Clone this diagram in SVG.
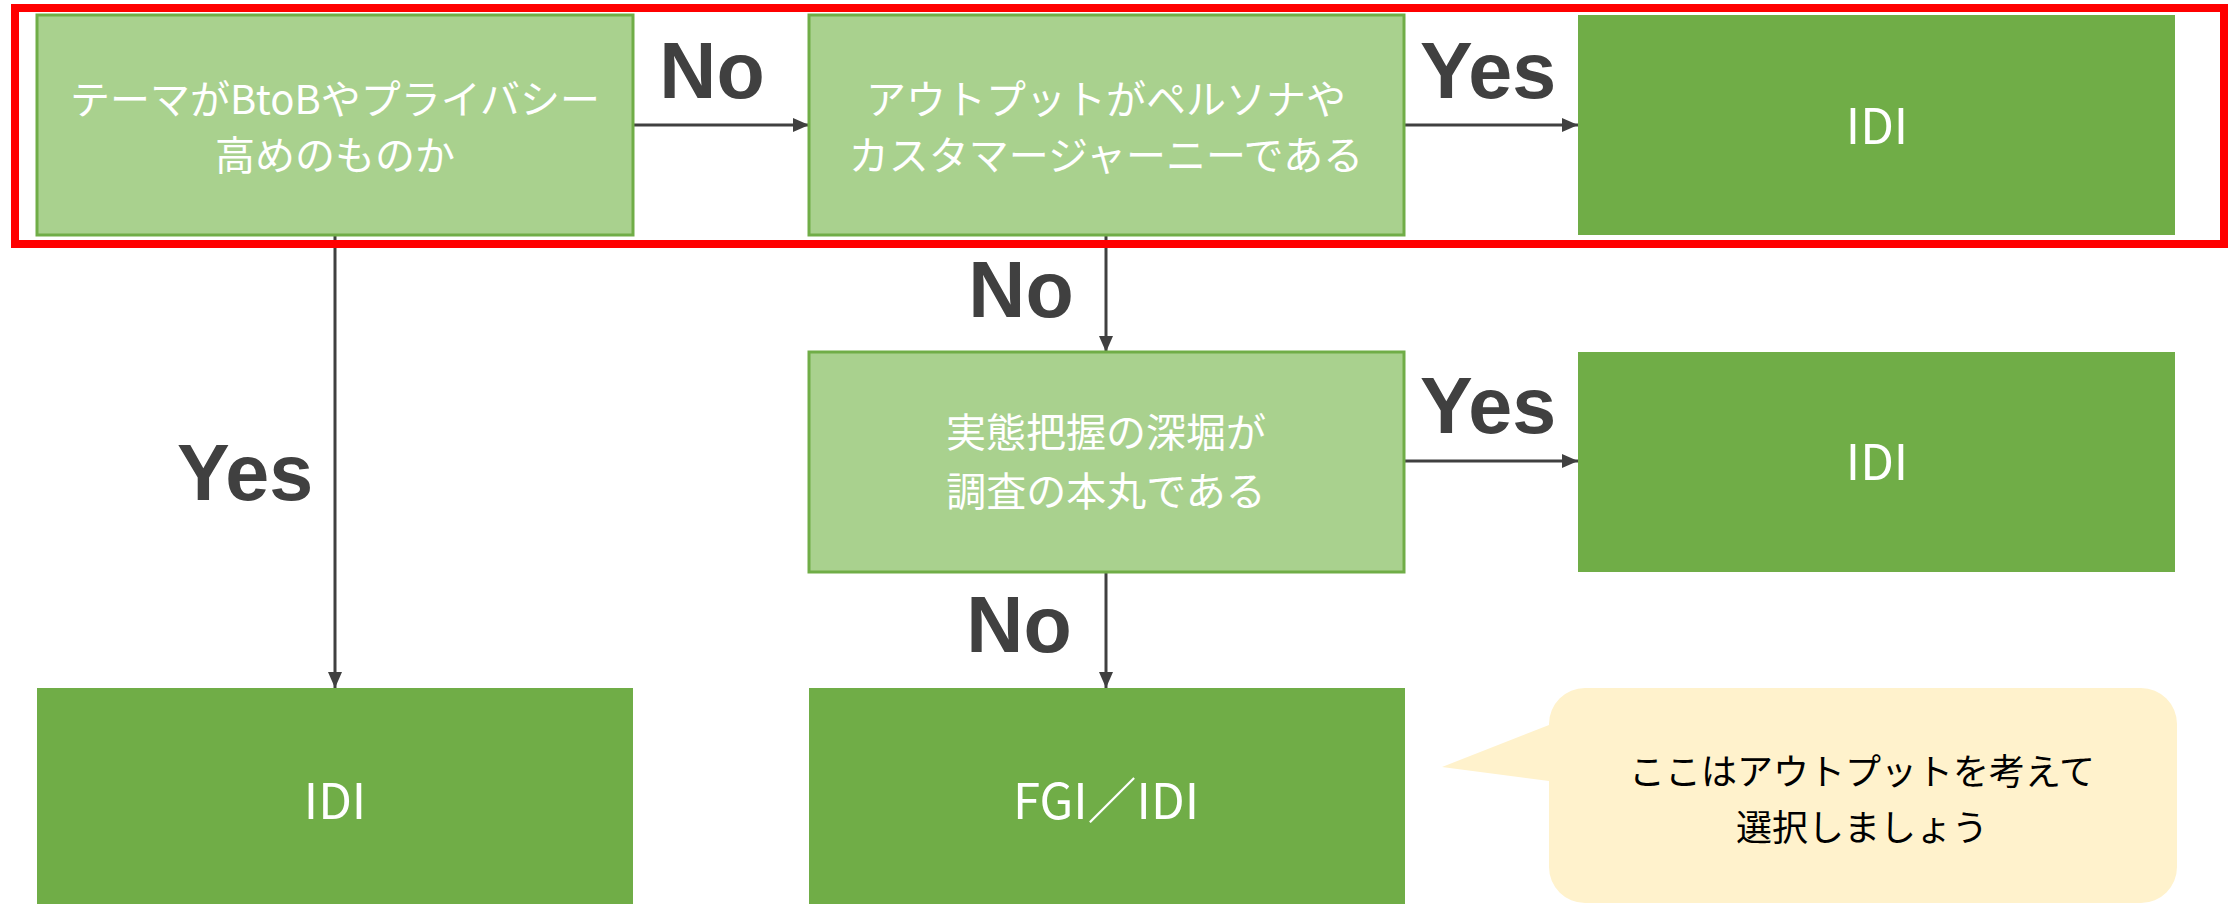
<svg xmlns="http://www.w3.org/2000/svg" width="2236" height="904" viewBox="0 0 2236 904">
  <style>
    .q { fill: #A9D18E; stroke: #70AD47; stroke-width: 3; }
    .r { fill: #70AD47; }
    .jt { font-family: "Noto Sans CJK JP", sans-serif; font-size: 40px; fill: #FFFFFF; text-anchor: middle; }
    .it { font-family: "Noto Sans CJK JP", "Noto Sans", sans-serif; font-size: 49px; fill: #FFFFFF; text-anchor: middle; }
    .lbl { font-family: "Liberation Sans", Arial, sans-serif; font-weight: bold; font-size: 79px; fill: #404040; text-anchor: middle; }
    .ct { font-family: "Noto Sans CJK JP", sans-serif; font-size: 36px; fill: #000000; text-anchor: middle; }
    .c { stroke: #404040; stroke-width: 3; fill: none; marker-end: url(#ah); }
  </style>
  <defs>
    <marker id="ah" viewBox="0 0 16 14" refX="16" refY="7" markerWidth="16" markerHeight="14" markerUnits="userSpaceOnUse" orient="auto">
      <path d="M0,0 L16,7 L0,14 Z" fill="#404040"/>
    </marker>
  </defs>
  <rect width="2236" height="904" fill="#FFFFFF"/>

  <g id="connectors">
    <line class="c" x1="633" y1="125" x2="809" y2="125"/>
    <line class="c" x1="1404" y1="125" x2="1578" y2="125"/>
    <line class="c" x1="1106" y1="235" x2="1106" y2="352"/>
    <line class="c" x1="1404" y1="461" x2="1578" y2="461"/>
    <line class="c" x1="1106" y1="572" x2="1106" y2="688"/>
    <line class="c" x1="335" y1="235" x2="335" y2="688"/>
  </g>

  <g id="labels">
    <text class="lbl" x="712" y="98">No</text>
    <text class="lbl" x="1488" y="98">Yes</text>
    <text class="lbl" x="1021" y="317">No</text>
    <text class="lbl" x="1488" y="433">Yes</text>
    <text class="lbl" x="245" y="500">Yes</text>
    <text class="lbl" x="1019" y="652">No</text>
  </g>

  <g id="q1">
    <rect class="q" x="37" y="15" width="596" height="220"/>
    <text class="jt" x="335" y="114">テーマがBtoBやプライバシー</text>
    <text class="jt" x="335" y="170">高めのものか</text>
  </g>
  <g id="q2">
    <rect class="q" x="809" y="15" width="595" height="220"/>
    <text class="jt" x="1106" y="114">アウトプットがペルソナや</text>
    <text class="jt" x="1106" y="170">カスタマージャーニーである</text>
  </g>
  <g id="r1">
    <rect class="r" x="1578" y="15" width="597" height="220"/>
    <text class="it" x="1877" y="144">IDI</text>
  </g>
  <g id="q3">
    <rect class="q" x="809" y="352" width="595" height="220"/>
    <text class="jt" x="1106" y="447">実態把握の深堀が</text>
    <text class="jt" x="1106" y="506">調査の本丸である</text>
  </g>
  <g id="r2">
    <rect class="r" x="1578" y="352" width="597" height="220"/>
    <text class="it" x="1877" y="480">IDI</text>
  </g>
  <g id="r3">
    <rect class="r" x="37" y="688" width="596" height="220"/>
    <text class="it" x="335" y="819">IDI</text>
  </g>
  <g id="r4">
    <rect class="r" x="809" y="688" width="596" height="220"/>
    <text class="it" x="1106" y="819">FGI／IDI</text>
  </g>
  <g id="callout">
    <path d="M1585,688 H2141 A36,36 0 0 1 2177,724 V867 A36,36 0 0 1 2141,903 H1585 A36,36 0 0 1 1549,867 V781 L1442,767 L1549,725 V724 A36,36 0 0 1 1585,688 Z" fill="#FFF2CC"/>
    <text class="ct" x="1862" y="785">ここはアウトプットを考えて</text>
    <text class="ct" x="1862" y="841">選択しましょう</text>
  </g>

  <g id="highlight">
    <rect x="15" y="8" width="2209" height="236" fill="none" stroke="#FF0000" stroke-width="8"/>
  </g>
</svg>
